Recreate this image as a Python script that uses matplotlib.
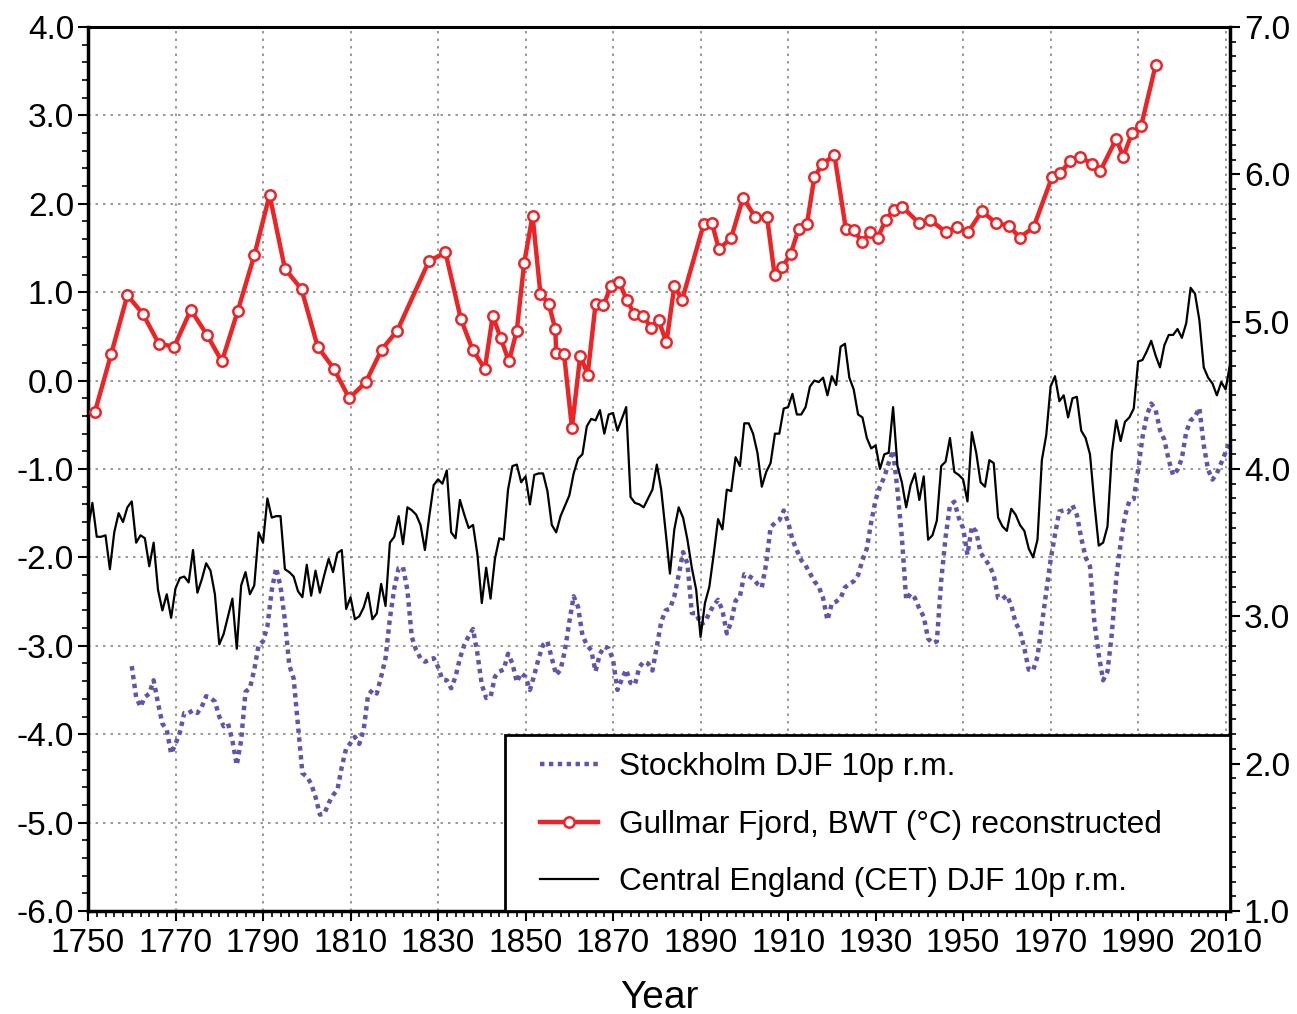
import matplotlib.pyplot as plt
import numpy as np
from matplotlib.ticker import MultipleLocator, FormatStrFormatter
from matplotlib.patches import Rectangle

plt.rcParams['font.family'] = ['Liberation Sans', 'DejaVu Sans']

# Central England DJF 10p running mean (right axis), one value per year from 1750
cet_start = 1750
cet = [3.59, 3.77, 3.54, 3.54, 3.55, 3.32, 3.57, 3.70, 3.64, 3.74,
       3.78, 3.50, 3.55, 3.53, 3.34, 3.50, 3.18, 3.04, 3.15, 2.99,
       3.19, 3.26, 3.27, 3.23, 3.45, 3.16, 3.25, 3.36, 3.31, 3.15,
       2.81, 2.88, 3.00, 3.12, 2.78, 3.21, 3.30, 3.15, 3.21, 3.57,
       3.50, 3.80, 3.67, 3.68, 3.68, 3.32, 3.30, 3.27, 3.17, 3.13,
       3.35, 3.14, 3.31, 3.16, 3.28, 3.39, 3.30, 3.43, 3.45, 3.05,
       3.13, 2.98, 3.00, 3.06, 3.16, 2.98, 3.02, 3.22, 3.07, 3.50,
       3.54, 3.68, 3.49, 3.74, 3.72, 3.69, 3.62, 3.45, 3.68, 3.89,
       3.93, 3.90, 3.99, 3.57, 3.53, 3.79, 3.69, 3.60, 3.62, 3.42,
       3.09, 3.33, 3.12, 3.39, 3.53, 3.52, 3.86, 4.02, 4.03, 3.91,
       3.95, 3.76, 3.96, 3.97, 3.97, 3.85, 3.62, 3.57, 3.68, 3.75,
       3.82, 3.97, 4.07, 4.10, 4.29, 4.34, 4.33, 4.40, 4.24, 4.37,
       4.38, 4.26, 4.34, 4.42, 3.81, 3.77, 3.76, 3.74, 3.80, 3.86,
       4.03, 3.86, 3.58, 3.29, 3.59, 3.74, 3.67, 3.52, 3.33, 3.18,
       2.86, 3.09, 3.20, 3.42, 3.66, 3.59, 3.86, 3.85, 4.08, 4.02,
       4.31, 4.31, 4.24, 4.11, 3.88, 3.98, 4.04, 4.24, 4.24, 4.41,
       4.42, 4.51, 4.37, 4.37, 4.42, 4.56, 4.60, 4.59, 4.62, 4.50,
       4.63, 4.57, 4.83, 4.85, 4.62, 4.54, 4.37, 4.35, 4.21, 4.14,
       4.16, 4.00, 4.10, 4.11, 4.42, 4.02, 3.91, 3.74, 3.89, 3.97,
       3.79, 3.95, 3.52, 3.55, 3.65, 4.02, 4.05, 4.21, 3.98, 3.96,
       3.93, 3.78, 4.25, 4.11, 3.91, 3.88, 4.06, 4.04, 3.67, 3.61,
       3.58, 3.73, 3.69, 3.62, 3.58, 3.46, 3.40, 3.52, 4.06, 4.23,
       4.56, 4.63, 4.46, 4.50, 4.35, 4.48, 4.49, 4.26, 4.21, 4.10,
       3.77, 3.48, 3.50, 3.61, 4.11, 4.33, 4.19, 4.32, 4.35, 4.41,
       4.73, 4.74, 4.80, 4.87, 4.77, 4.69, 4.84, 4.91, 4.91, 4.95,
       4.89, 4.99, 5.23, 5.19, 5.01, 4.69, 4.62, 4.58, 4.50, 4.59,
       4.54, 4.71]

# Stockholm DJF 10p running mean (left axis), one value per year from 1760
sth_start = 1760
stockholm = [-3.23, -3.58, -3.69, -3.58, -3.54, -3.39, -3.65, -3.88, -3.95, -4.22,
             -4.11, -3.98, -3.76, -3.76, -3.73, -3.76, -3.69, -3.57, -3.59, -3.63,
             -3.80, -3.91, -3.88, -4.07, -4.35, -4.07, -3.52, -3.48, -3.27, -2.99,
             -2.95, -2.78, -2.37, -2.12, -2.33, -2.71, -3.22, -3.37, -3.91, -4.44,
             -4.48, -4.56, -4.71, -4.91, -4.90, -4.78, -4.69, -4.63, -4.37, -4.16,
             -4.10, -4.03, -4.11, -3.95, -3.56, -3.50, -3.54, -3.35, -3.14, -2.69,
             -2.35, -2.12, -2.11, -2.37, -2.90, -3.05, -3.14, -3.18, -3.16, -3.14,
             -3.24, -3.38, -3.39, -3.48, -3.35, -3.14, -2.99, -2.89, -2.81, -3.09,
             -3.44, -3.59, -3.58, -3.35, -3.29, -3.27, -3.09, -3.20, -3.41, -3.31,
             -3.35, -3.50, -3.33, -3.14, -2.99, -2.95, -3.14, -3.33, -3.27, -3.05,
             -2.73, -2.44, -2.56, -2.88, -2.99, -3.05, -3.29, -3.09, -3.01, -3.03,
             -3.16, -3.50, -3.38, -3.27, -3.42, -3.44, -3.24, -3.18, -3.20, -3.28,
             -3.01, -2.73, -2.60, -2.58, -2.44, -2.20, -1.94, -2.07, -2.63, -2.63,
             -2.76, -2.73, -2.63, -2.54, -2.48, -2.60, -2.86, -2.73, -2.49, -2.44,
             -2.19, -2.21, -2.24, -2.30, -2.34, -2.07, -1.66, -1.61, -1.58, -1.47,
             -1.60, -1.80, -1.92, -2.03, -2.09, -2.18, -2.27, -2.33, -2.46, -2.71,
             -2.52, -2.50, -2.46, -2.34, -2.30, -2.27, -2.20, -2.03, -1.90, -1.60,
             -1.35, -1.20, -1.09, -0.93, -0.79, -1.24, -1.77, -2.48, -2.41, -2.46,
             -2.58, -2.67, -2.92, -2.97, -2.95, -2.26, -1.77, -1.41, -1.37, -1.55,
             -1.67, -1.97, -1.65, -1.71, -1.95, -2.02, -2.09, -2.20, -2.46, -2.47,
             -2.43, -2.54, -2.74, -2.83, -3.03, -3.27, -3.28, -3.12, -2.76, -2.39,
             -2.03, -1.74, -1.48, -1.47, -1.49, -1.41, -1.52, -1.78, -2.00, -2.10,
             -2.73, -3.10, -3.39, -3.29, -2.86, -2.24, -1.84, -1.53, -1.36, -1.34,
             -1.01, -0.64, -0.39, -0.26, -0.33, -0.56, -0.67, -0.90, -1.07, -1.01,
             -0.88, -0.58, -0.45, -0.41, -0.31, -0.73, -1.01, -1.12, -1.05, -0.93,
             -0.81, -0.68]

# Gullmar Fjord bottom water temperature, reconstructed (right axis)
bwt_years = [1751.6, 1755.3, 1759.0, 1762.6, 1766.2, 1769.7, 1773.5, 1777.2, 1780.6, 1784.2,
             1788.0, 1791.5, 1795.0, 1798.8, 1802.5, 1806.2, 1809.7, 1813.5, 1817.1, 1820.7,
             1827.9, 1831.7, 1835.2, 1837.9, 1840.7, 1842.5, 1844.3, 1846.2, 1848.0, 1849.7,
             1851.6, 1853.4, 1855.3, 1856.8, 1857.0, 1858.8, 1860.6, 1862.5, 1864.2, 1866.0,
             1867.8, 1869.5, 1871.4, 1873.1, 1874.9, 1876.9, 1878.6, 1880.4, 1882.2, 1884.0,
             1885.8, 1890.7, 1892.6, 1894.2, 1897.0, 1899.7, 1902.5, 1905.2, 1906.9, 1908.7,
             1910.6, 1912.4, 1914.3, 1916.0, 1917.8, 1920.6, 1923.2, 1925.1, 1926.9, 1928.7,
             1930.5, 1932.3, 1934.2, 1936.1, 1939.9, 1942.5, 1946.0, 1948.5, 1951.2, 1954.3,
             1957.5, 1960.6, 1962.9, 1966.1, 1970.3, 1972.2, 1974.5, 1976.7, 1979.5, 1981.3,
             1985.0, 1986.6, 1988.6, 1990.7, 1994.0]
bwt = [4.39, 4.78, 5.18, 5.05, 4.85, 4.83, 5.08, 4.91, 4.73, 5.07,
       5.45, 5.86, 5.36, 5.22, 4.83, 4.68, 4.48, 4.59, 4.81, 4.94,
       5.41, 5.47, 5.02, 4.81, 4.68, 5.04, 4.89, 4.73, 4.94, 5.40,
       5.72, 5.19, 5.12, 4.95, 4.79, 4.78, 4.28, 4.77, 4.64, 5.12,
       5.11, 5.24, 5.27, 5.15, 5.05, 5.04, 4.96, 5.01, 4.86, 5.24,
       5.15, 5.66, 5.67, 5.49, 5.57, 5.84, 5.71, 5.71, 5.32, 5.37,
       5.46, 5.63, 5.66, 5.98, 6.07, 6.13, 5.63, 5.62, 5.54, 5.61,
       5.57, 5.69, 5.76, 5.78, 5.67, 5.69, 5.61, 5.64, 5.61, 5.75,
       5.67, 5.65, 5.57, 5.64, 5.98, 6.01, 6.09, 6.12, 6.07, 6.02,
       6.24, 6.12, 6.28, 6.33, 6.74]

labels = ['Stockholm DJF 10p r.m.',
          'Gullmar Fjord, BWT (°C) reconstructed',
          'Central England (CET) DJF 10p r.m.']
year_ticks = np.arange(1750, 2011, 20)

purple = '#6452ab'
red = '#ee2326'

W, H = 1297, 1014
fig = plt.figure(figsize=(W / 100, H / 100), dpi=100)
ax = fig.add_axes([88 / W, 103 / H, (1230 - 88) / W, (911 - 27) / H])
ax2 = ax.twinx()

sth_years = np.arange(sth_start, sth_start + len(stockholm))
cet_years = np.arange(cet_start, cet_start + len(cet))

l1, = ax.plot(sth_years, stockholm, color=purple, lw=3.2, ls=(0, (1.0, 1.0)),
              dash_capstyle='butt', label=labels[0])
l3, = ax2.plot(cet_years, cet, color='black', lw=1.6, label=labels[2])
l2, = ax2.plot(bwt_years, bwt, color=red, lw=3.2, marker='o', ms=7.5,
               mfc='white', mec=red, mew=1.8, label=labels[1])

ax.set_xlim(1750, 2011)
ax.set_ylim(-6, 4)
ax2.set_ylim(1, 7)

ax.set_xticks(year_ticks)
ax.xaxis.set_minor_locator(MultipleLocator(2))
ax.yaxis.set_major_locator(MultipleLocator(1))
ax.yaxis.set_minor_locator(MultipleLocator(0.2))
ax.yaxis.set_major_formatter(FormatStrFormatter('%.1f'))
ax2.yaxis.set_major_locator(MultipleLocator(1))
ax2.yaxis.set_minor_locator(MultipleLocator(0.1))
ax2.yaxis.set_major_formatter(FormatStrFormatter('%.1f'))

ax.grid(True, which='major', color='#888888', ls=(0, (1.5, 3)), lw=1.2)

for a in (ax, ax2):
    a.tick_params(which='major', direction='out', length=7, width=1.5,
                  labelsize=24, colors='black')
    a.tick_params(which='minor', direction='out', length=4, width=1.2)

ax.tick_params(axis='x', pad=5)
ax.tick_params(axis='y', pad=3)
ax2.tick_params(axis='y', pad=3)

for s in ['left', 'bottom']:
    ax.spines[s].set_linewidth(2.5)
ax.spines['right'].set_visible(False)
ax.spines['top'].set_linewidth(2.2)
ax.spines['top'].set_linestyle((0, (3, 1)))
ax2.spines['right'].set_linewidth(2.5)
for s in ['left', 'bottom', 'top']:
    ax2.spines[s].set_visible(False)

ax.set_xlabel('Year', fontsize=28, labelpad=15)

# legend frame spans to the right and bottom axes edges
pw, ph = 1230 - 88, 911 - 27
x0 = (505 - 88) / pw
box = Rectangle((x0, 0), 1 - x0, (911 - 735) / ph, transform=ax2.transAxes,
                facecolor='white', edgecolor='black', lw=2.0, zorder=4.5,
                clip_on=False)
ax2.add_patch(box)

leg = ax2.legend([l1, l2, l3], labels, loc='upper left',
                 bbox_to_anchor=((540 - 88) / pw, (911 - 752) / ph),
                 borderaxespad=0, borderpad=0, fontsize=22.7, handlelength=1.85,
                 handletextpad=0.64, labelspacing=0.88, frameon=False)
leg.set_zorder(5)

plt.savefig('out.png', dpi=100)
